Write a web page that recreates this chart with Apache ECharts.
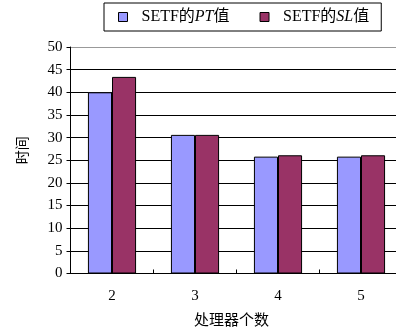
<!DOCTYPE html>
<html>
<head>
<meta charset="utf-8">
<script src="https://cdn.jsdelivr.net/npm/echarts@6/dist/echarts.min.js"></script>
<style>
  html, body { margin: 0; padding: 0; background: #fff; }
  #chart { width: 396px; height: 331px; }
</style>
</head>
<body>
<div id="chart"></div>
<script>
// processor counts on the x axis
const categories = ['2', '3', '4', '5'];
// SETF PT / SL times
const ptValues = [40, 30.6, 25.8, 25.8];
const slValues = [43.4, 30.6, 26.1, 26.1];
const yTicks = [0, 5, 10, 15, 20, 25, 30, 35, 40, 45, 50];

const serif = '"Liberation Serif", "Noto Sans CJK SC", serif';
const cjk = '"Noto Sans CJK SC", sans-serif';

const myChart = echarts.init(document.getElementById('chart'));

// grid lines are black except the top one, which is grey
const splitColors = yTicks.map((v, i) => (i === yTicks.length - 1 ? '#999' : '#000'));

const option = {
  animation: false,
  backgroundColor: '#fff',
  color: ['#9999ff', '#993366'],
  legend: {
    left: 104,
    top: 3,
    width: 280,
    height: 30,
    padding: [6, 12, 6, 14],
    itemGap: 30,
    itemWidth: 9,
    itemHeight: 9,
    borderColor: '#000',
    borderWidth: 1,
    icon: 'rect',
    itemStyle: { borderColor: '#000', borderWidth: 1 },
    formatter: (name) => name === 'PT'
      ? '{a|SETF的}{i|PT}{a|值}'
      : '{a|SETF的}{i|SL}{a|值}',
    textStyle: {
      padding: [0, 0, 0, 9],
      rich: {
        a: { fontFamily: serif, fontSize: 16, color: '#000' },
        i: { fontFamily: serif, fontSize: 16, fontStyle: 'italic', color: '#000' }
      }
    },
    data: ['PT', 'SL']
  },
  grid: {
    left: 70.5,
    top: 47,
    width: 332,
    height: 226.5,
    outerBoundsMode: 'none'
  },
  xAxis: {
    type: 'category',
    data: categories,
    name: '处理器个数',
    nameLocation: 'middle',
    nameGap: 38,
    nameTextStyle: { fontFamily: cjk, fontSize: 15, color: '#000', padding: [0, 10, 0, 0] },
    axisLine: { lineStyle: { color: '#000', width: 1 } },
    axisTick: { show: true, inside: true, length: 4, lineStyle: { color: '#000' } },
    axisLabel: { fontFamily: serif, fontSize: 15, color: '#000', margin: 15 }
  },
  yAxis: {
    type: 'value',
    min: 0,
    max: 50,
    interval: 5,
    name: '时间',
    nameLocation: 'middle',
    nameGap: 42,
    nameTextStyle: { fontFamily: cjk, fontSize: 14, color: '#000', padding: [0, 0, 0, 20] },
    axisLine: { show: true, lineStyle: { color: '#000', width: 1 } },
    axisTick: { show: true, length: 4, lineStyle: { color: '#000' } },
    axisLabel: { fontFamily: serif, fontSize: 15, color: '#000', margin: 8 },
    splitLine: { show: true, lineStyle: { color: splitColors, width: 1 } }
  },
  series: [
    {
      name: 'PT',
      type: 'bar',
      data: ptValues,
      barGap: '0%',
      barCategoryGap: '42%',
      itemStyle: { borderColor: '#000', borderWidth: 1 }
    },
    {
      name: 'SL',
      type: 'bar',
      data: slValues,
      itemStyle: { borderColor: '#000', borderWidth: 1 }
    }
  ]
};

myChart.setOption(option);
</script>
</body>
</html>
